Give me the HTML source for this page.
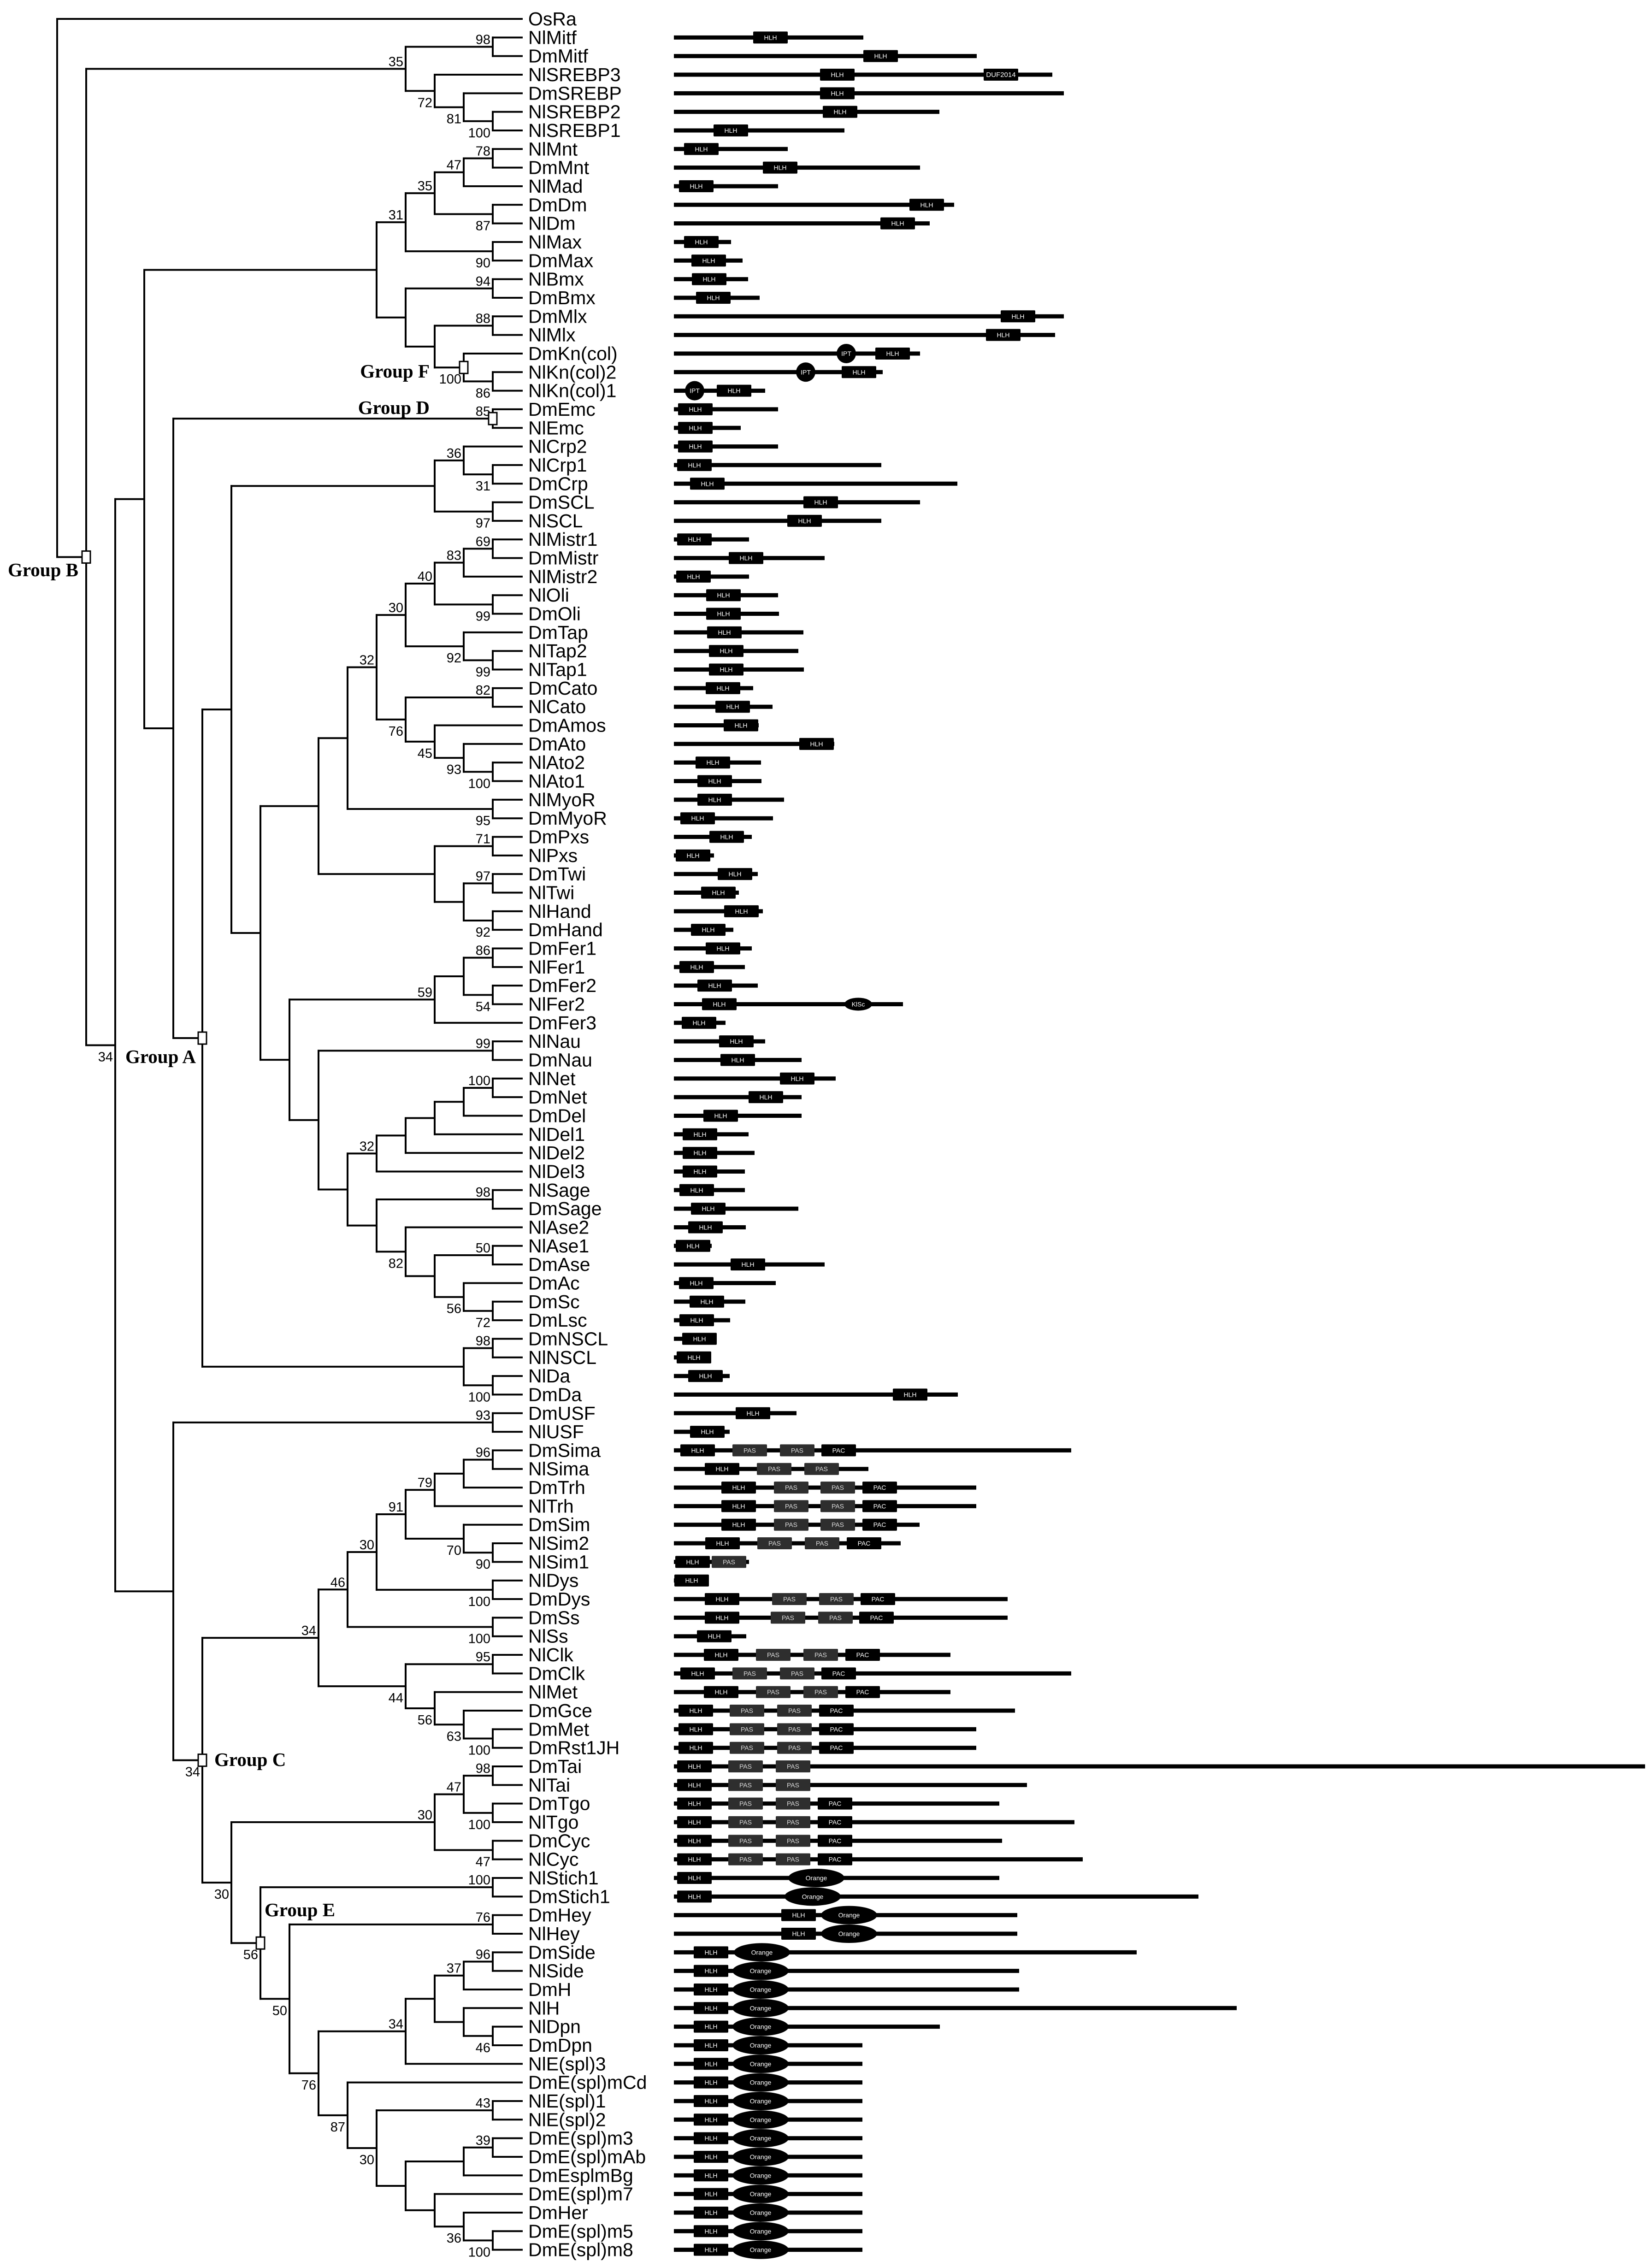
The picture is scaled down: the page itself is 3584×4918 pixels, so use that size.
<!DOCTYPE html>
<html><head><meta charset="utf-8"><title>bHLH phylogeny and domain architecture</title>
<style>
html,body{margin:0;padding:0;background:#fff;}
svg{display:block;}
</style></head>
<body>
<svg id="fig" xmlns="http://www.w3.org/2000/svg" width="3584" height="4918" viewBox="0 0 3584 4918">
<rect x="0" y="0" width="3584" height="4918" fill="#fff"/>
<g id="treeG"></g>
<g id="domG"></g>
<g id="grpG"></g>
</svg>
<script>
// ---- Tree topology: [level, "bootstrap+pos(+* box)", children...]
const tree = [16,"", "OsRa",
 [15,"*",
  [4,"35u", [1,"98u","NlMitf","DmMitf"], [3,"72d","NlSREBP3",[2,"81d","DmSREBP",[1,"100d","NlSREBP2","NlSREBP1"]]]],
  [14,"34d",
   [13,"",
    [5,"",
     [4,"31u",
      [3,"35u",[2,"47u",[1,"78u","NlMnt","DmMnt"],"NlMad"],[1,"87d","DmDm","NlDm"]],
      [1,"90d","NlMax","DmMax"]],
     [4,"",
      [1,"94u","NlBmx","DmBmx"],
      [3,"",[1,"88u","DmMlx","NlMlx"],[2,"100d*","DmKn(col)",[1,"86d","NlKn(col)2","NlKn(col)1"]]]]],
    [12,"",
     [1,"85u*","DmEmc","NlEmc"],
     [11,"*",
      [10,"",
       [3,"",[2,"36u","NlCrp2",[1,"31d","NlCrp1","DmCrp"]],[1,"97d","DmSCL","NlSCL"]],
       [9,"",
        [7,"",
         [6,"",
          [5,"32u",
           [4,"30u",
            [3,"40u",[2,"83u",[1,"69u","NlMistr1","DmMistr"],"NlMistr2"],[1,"99d","NlOli","DmOli"]],
            [2,"92d","DmTap",[1,"99d","NlTap2","NlTap1"]]],
           [4,"76d",
            [1,"82u","DmCato","NlCato"],
            [3,"45d","DmAmos",[2,"93d","DmAto",[1,"100d","NlAto2","NlAto1"]]]]],
          [1,"95d","NlMyoR","DmMyoR"]],
         [3,"",[1,"71u","DmPxs","NlPxs"],[2,"",[1,"97u","DmTwi","NlTwi"],[1,"92d","NlHand","DmHand"]]]],
        [8,"",
         [3,"59u",[2,"",[1,"86u","DmFer1","NlFer1"],[1,"54d","DmFer2","NlFer2"]],"DmFer3"],
         [7,"",
          [1,"99u","NlNau","DmNau"],
          [6,"",
           [5,"32u",[4,"",[3,"",[2,"",[1,"100u","NlNet","DmNet"],"DmDel"],"NlDel1"],"NlDel2"],"NlDel3"],
           [5,"",
            [1,"98u","NlSage","DmSage"],
            [4,"82d","NlAse2",[3,"",[1,"50u","NlAse1","DmAse"],[2,"56d","DmAc",[1,"72d","DmSc","DmLsc"]]]]]]]]]],
      [2,"",[1,"98u","DmNSCL","NlNSCL"],[1,"100d","NlDa","DmDa"]]]]],
   [12,"",
    [1,"93u","DmUSF","NlUSF"],
    [11,"34d*",
     [7,"34u",
      [6,"46u",
       [5,"30u",
        [4,"91u",
         [3,"79u",[2,"",[1,"96u","DmSima","NlSima"],"DmTrh"],"NlTrh"],
         [2,"70d","DmSim",[1,"90d","NlSim2","NlSim1"]]],
        [1,"100d","NlDys","DmDys"]],
       [1,"100d","DmSs","NlSs"]],
      [4,"44d",
       [1,"95u","NlClk","DmClk"],
       [3,"56d","NlMet",[2,"63d","DmGce",[1,"100d","DmMet","DmRst1JH"]]]]],
     [10,"30d",
      [3,"30u",[2,"47u",[1,"98u","DmTai","NlTai"],[1,"100d","DmTgo","NlTgo"]],[1,"47d","DmCyc","NlCyc"]],
      [9,"56d*",
       [1,"100u","NlStich1","DmStich1"],
       [8,"50d",
        [1,"76u","DmHey","NlHey"],
        [7,"76d",
         [4,"34u",[3,"",[2,"37u",[1,"96u","DmSide","NlSide"],"DmH"],[2,"","NlH",[1,"46d","NlDpn","DmDpn"]]],"NlE(spl)3"],
         [6,"87d","DmE(spl)mCd",
          [5,"30d",
           [1,"43u","NlE(spl)1","NlE(spl)2"],
           [4,"",[2,"",[1,"39u","DmE(spl)m3","DmE(spl)mAb"],"DmEsplmBg"],
            [3,"","DmE(spl)m7",[2,"36d","DmHer",[1,"100d","DmE(spl)m5","DmE(spl)m8"
            ]]]]]
          ]]]]]
      ]]]]]
;

// ---- Protein lengths (leaf order) and domain specs (type+start offset)
const lengths = [0,411,657,821,846,576,370,247,534,226,608,555,124,149,161,186,846,827,534,453,198,
 226,145,226,450,615,534,450,163,327,163,226,228,281,270,282,172,214,184,348,189,190,239,215,
 169,87,182,141,193,129,169,154,182,497,112,198,277,351,277,277,162,175,154,154,270,156,82,327,
 221,155,122,93,80,121,616,266,121,862,422,656,656,533,492,163,75,724,724,157,600,862,600,740,
 656,656,2107,766,706,869,712,887,706,1138,745,745,1004,749,749,1221,577,409,409,409,409,409,409,
 409,409,409,409,409,409];
const domainSpecs = ["","H172","H411","H317 D672","H317","H323","H86","H22","H193","H11","H511","H448",
 "H22","H38","H39","H48","H709","H677","I374 H437","I286 H364","I45 H93",
 "H9","H9","H9","H7","H35","H281","H246","H7","H119","H5","H70","H70","H72","H76","H76","H69","H90",
 "H108","H272","H47","H51","H51","H14","H77","H4","H95","H59","H109","H37","H69","H12","H51","H61 K400",
 "H17","H98","H101","H230","H162","H64","H19","H19","H19","H12","H37","H31","H4","H123","H11","H34",
 "H12","H18","H6","H31","H475","H134","H35",
 "H14 P127 P230 C320","H67 P180 P283","H103 P217 P318 C409","H103 P217 P318 C409","H103 P217 P318 C409",
 "H68 P181 P284 C375","H3 P82","H1","H67 P213 P315 C405","H67 P210 P313 C402","H50",
 "H65 P178 P281 C372","H14 P127 P230 C320","H65 P178 P281 C372","H10 P121 P224 C315","H10 P121 P224 C315",
 "H10 P121 P224 C315","H7 P118 P221","H7 P118 P221","H7 P118 P221 C312","H7 P118 P221 C312",
 "H7 P118 P221 C312","H7 P118 P221 C312","H7 O309","H7 O301","H233 O380","H233 O380",
 "H43 O191","H43 O188","H43 O188","H43 O188","H43 O188","H43 O188","H43 O188","H43 O188","H43 O188",
 "H43 O188","H43 O188","H43 O188","H43 O188","H43 O188","H43 O188","H43 O188","H43 O188"];

const NS = "http://www.w3.org/2000/svg";
const treeG = document.getElementById('treeG');
const domG = document.getElementById('domG');
const grpG = document.getElementById('grpG');
const TIP = 1132, STEP = 63, Y0 = 41, PITCH = 40.33, DX0 = 1462;
function xLevel(k){ return TIP - STEP*k; }
function yLeaf(i){ return Y0 + PITCH*i; }
function mk(tag, attrs, parent){ const e = document.createElementNS(NS, tag); for (const a in attrs) e.setAttribute(a, attrs[a]); parent.appendChild(e); return e; }
function line(x1,y1,x2,y2,w,parent){ return mk('line',{x1:x1,y1:y1,x2:x2,y2:y2,stroke:'#000','stroke-width':w,'stroke-linecap':'square'},parent); }

const leaves = [];
let leafCount = 0;
const boxes = [];
function layout(node){
  if (typeof node === 'string'){
    const y = yLeaf(leafCount); leafCount++;
    leaves.push({name:node, y:y});
    return {x:TIP, y:y, leaf:true, name:node};
  }
  const k = node[0], info = node[1];
  const kids = node.slice(2).map(layout);
  const x = xLevel(k);
  const y = (kids[0].y + kids[kids.length-1].y)/2;
  const v = line(x, kids[0].y, x, kids[kids.length-1].y, 4, treeG);
  
  
  kids.forEach(c => {
    const h = line(x, c.y, c.x, c.y, 4, treeG);
    
    
  });
  const m = String(info).match(/^(\d+)?([ud])?(\*)?$/);
  if (m && m[1]){
    const t = mk('text',{x:x-5, y:(m[2]==='d'? y+35 : y-6), 'text-anchor':'end', 'font-family':'"Liberation Sans", Arial, sans-serif', 'font-size':29, fill:'#000'}, treeG);
    t.textContent = m[1];
    
    
  }
  if (m && m[3]) boxes.push({x:x, y:y});
  return {x:x, y:y, leaf:false};
}
layout(tree);

boxes.forEach(b => {
  const r = mk('rect',{x:b.x-9, y:b.y-13, width:18, height:26, fill:'#fff', stroke:'#000', 'stroke-width':3}, treeG);
  
  
});

leaves.forEach(l => {
  const t = mk('text',{x:TIP+14, y:l.y+14, 'font-family':'"Liberation Sans", Arial, sans-serif', 'font-size':41, fill:'#000'}, treeG);
  t.textContent = l.name;
  
  
});

const BOXW = 75, BOXH = 26;
leaves.forEach((l, i) => {
  const len = lengths[i];
  if (!len) return;
  const row = mk('g', {}, domG);
  
  
  const ln = line(DX0, l.y, DX0 + len, l.y, 9, row);
  ln.setAttribute('stroke-linecap', 'butt');
  
  
  const specs = (domainSpecs[i] || '').split(' ').filter(s => s);
  specs.forEach(s => {
    const type = s[0], pos = +s.slice(1);
    let label, shape;
    if (type === 'H' || type === 'P' || type === 'C' || type === 'D'){
      const fill = type === 'P' ? '#2e2e2e' : '#000';
      shape = mk('rect',{x:DX0+pos, y:l.y-BOXH/2, width:BOXW, height:BOXH, rx:2, fill:fill}, row);
      label = {H:'HLH', P:'PAS', C:'PAC', D:'DUF2014'}[type];
      const t = mk('text',{x:DX0+pos+BOXW/2, y:l.y+5, 'text-anchor':'middle', 'font-family':'"Liberation Sans", Arial, sans-serif', 'font-size': type==='D'?15:14, fill: type==='P' ? '#ddd' : '#fff'}, row);
      t.textContent = label;
      
      
    } else {
      let rx, ry;
      if (type === 'I'){ rx = 21; ry = 21; label = 'IPT'; }
      else if (type === 'K'){ rx = 30; ry = 14; label = 'KlSc'; }
      else { rx = 61; ry = 20; label = 'Orange'; }
      shape = mk('ellipse',{cx:DX0+pos, cy:l.y, rx:rx, ry:ry, fill:'#000'}, row);
      const t = mk('text',{x:DX0+pos, y:l.y+5, 'text-anchor':'middle', 'font-family':'"Liberation Sans", Arial, sans-serif', 'font-size':14, fill:'#fff'}, row);
      t.textContent = label;
      
      
    }
    
    
  });
});

const groupLabels = [["Group B",170,1250,"end"],["Group A",425,2306,"end"],["Group F",932,819,"end"],
  ["Group D",932,898,"end"],["Group C",465,3831,"start"],["Group E",574,4157,"start"]];
groupLabels.forEach(g => {
  const t = mk('text',{x:g[1], y:g[2], 'text-anchor':g[3], 'font-family':'"Liberation Serif", "Times New Roman", serif', 'font-size':41, 'font-weight':'bold', fill:'#000'}, grpG);
  t.textContent = g[0];
  
  
});
</script>
</body></html>
